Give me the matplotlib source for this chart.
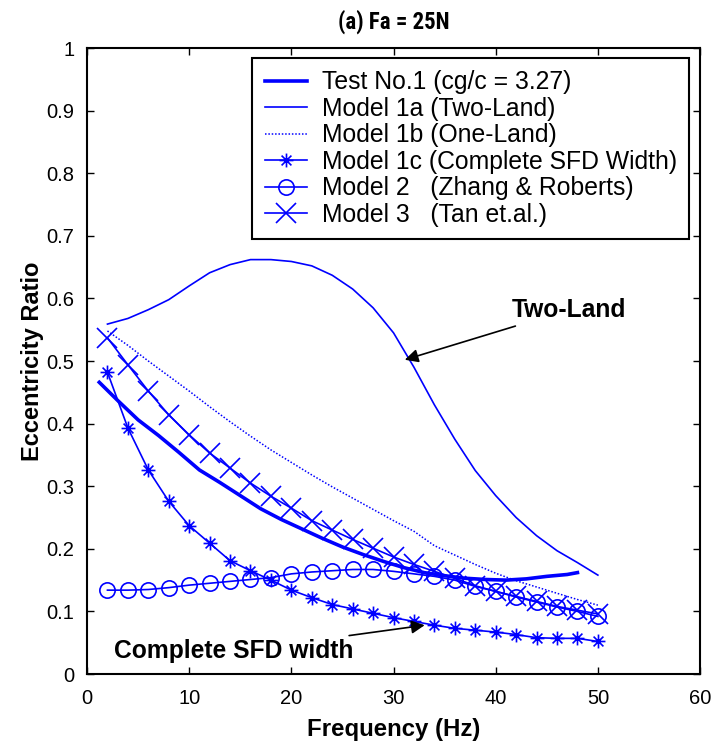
import numpy as np
import matplotlib
matplotlib.use("Agg")
import matplotlib.pyplot as plt
from matplotlib.path import Path
from matplotlib.ticker import FuncFormatter, MultipleLocator

plt.rcParams['font.family'] = ['Liberation Sans', 'DejaVu Sans']

# Frequency grid of the model curves (Hz)
freq_model = [2, 4, 6, 8, 10, 12, 14, 16, 18, 20, 22, 24, 26,
              28, 30, 32, 34, 36, 38, 40, 42, 44, 46, 48, 50]

# Measured eccentricity ratio, Test No.1
freq_test = [1.2, 3, 5, 7, 9, 11, 13, 15, 17, 19, 21, 23, 25,
             27, 29, 31, 33, 35, 37, 39, 41, 43, 45, 47, 48]
ecc_test = [0.466, 0.437, 0.406, 0.381, 0.354, 0.326, 0.306, 0.285, 0.264,
            0.247, 0.232, 0.217, 0.203, 0.191, 0.180, 0.170, 0.162, 0.157,
            0.153, 0.151, 0.150, 0.152, 0.156, 0.159, 0.162]

# Model predictions
ecc_1a = [0.559, 0.568, 0.582, 0.598, 0.620, 0.641, 0.654, 0.662, 0.662,
          0.659, 0.652, 0.637, 0.615, 0.585, 0.545, 0.490, 0.430, 0.375,
          0.325, 0.285, 0.250, 0.221, 0.197, 0.178, 0.158]
ecc_1b = [0.548, 0.525, 0.500, 0.476, 0.452, 0.427, 0.403, 0.380, 0.358,
          0.338, 0.318, 0.299, 0.281, 0.263, 0.245, 0.228, 0.205, 0.190,
          0.175, 0.161, 0.149, 0.139, 0.129, 0.119, 0.110]
ecc_1c = [0.482, 0.393, 0.326, 0.276, 0.237, 0.209, 0.181, 0.165, 0.150,
          0.134, 0.122, 0.111, 0.104, 0.097, 0.090, 0.084, 0.078, 0.073,
          0.070, 0.067, 0.063, 0.058, 0.057, 0.057, 0.052]
ecc_2 = [0.134, 0.134, 0.135, 0.138, 0.142, 0.145, 0.148, 0.151, 0.154,
         0.160, 0.163, 0.165, 0.167, 0.167, 0.164, 0.160, 0.156, 0.150,
         0.140, 0.132, 0.123, 0.115, 0.107, 0.100, 0.092]
ecc_3 = [0.537, 0.494, 0.452, 0.414, 0.382, 0.353, 0.329, 0.305, 0.284,
         0.265, 0.245, 0.230, 0.215, 0.201, 0.187, 0.175, 0.164, 0.153,
         0.141, 0.132, 0.124, 0.116, 0.108, 0.102, 0.096]

labels = ["Test No.1 (cg/c = 3.27)",
          "Model 1a (Two-Land)",
          "Model 1b (One-Land)",
          "Model 1c (Complete SFD Width)",
          "Model 2   (Zhang & Roberts)",
          "Model 3   (Tan et.al.)"]

blue = (0, 0, 1)

# eight-armed asterisk marker
r = 0.7071
asterisk = Path([(0, -1), (0, 1), (-1, 0), (1, 0), (-r, -r), (r, r), (-r, r), (r, -r)],
                [Path.MOVETO, Path.LINETO] * 4)

fig = plt.figure(figsize=(7.18, 7.48), dpi=100)
ax = fig.add_axes([0.1212, 0.0989, 0.8538, 0.8369])

ax.plot(freq_test, ecc_test, color=blue, lw=2.6, label=labels[0])
ax.plot(freq_model, ecc_1a, color=blue, lw=1.2, label=labels[1])
ax.plot(freq_model, ecc_1b, color=blue, lw=1.1, ls=(0, (1, 1.2)), label=labels[2])
ax.plot(freq_model, ecc_1c, color=blue, lw=1.2, marker=asterisk, ms=10,
        mew=1.2, mfc='none', mec=blue, label=labels[3])
ax.plot(freq_model, ecc_2, color=blue, lw=1.2, marker='o', ms=11,
        mew=1.2, mfc='none', mec=blue, label=labels[4])
ax.plot(freq_model, ecc_3, color=blue, lw=1.2, marker='x', ms=14,
        mew=1.2, mec=blue, label=labels[5])

ax.set_xlim(0, 60)
ax.set_ylim(0, 1)
ax.xaxis.set_major_locator(MultipleLocator(10))
ax.yaxis.set_major_locator(MultipleLocator(0.1))
ax.yaxis.set_major_formatter(FuncFormatter(lambda v, p: f"{v:g}"))
ax.tick_params(direction='in', length=5, width=1, top=True, right=True,
               labelsize=14.5)
ax.tick_params(axis='x', pad=11)
ax.tick_params(axis='y', pad=9)
for s in ax.spines.values():
    s.set_linewidth(1.5)

ax.set_xlabel("Frequency (Hz)", fontsize=17.3, fontweight='bold', labelpad=7)
ax.set_ylabel("Eccentricity Ratio", fontsize=17, fontweight='bold', labelpad=2)
ax.set_title("(a) Fa = 25N", fontsize=16.5, fontweight='bold', pad=14,
             family=['Roboto Condensed', 'IBM Plex Sans Condensed', 'Liberation Sans'])

leg = ax.legend(loc='upper right', bbox_to_anchor=(0.982, 0.984), fontsize=17.8,
                frameon=True, fancybox=False, framealpha=1, edgecolor='k',
                handlelength=1.7, handletextpad=0.6, labelspacing=0.1,
                borderpad=0.5, borderaxespad=0)
leg.get_frame().set_linewidth(1.5)

ax.annotate("Two-Land", xy=(31.1, 0.502), xytext=(41.6, 0.582),
            fontsize=17.7, fontweight='bold', va='center', ha='left',
            arrowprops=dict(arrowstyle='-|>', color='k', lw=1.2,
                            mutation_scale=20, shrinkA=4, shrinkB=0))
ax.annotate("Complete SFD width", xy=(33.05, 0.078), xytext=(2.6, 0.036),
            fontsize=17.7, fontweight='bold', va='center', ha='left',
            arrowprops=dict(arrowstyle='-|>', color='k', lw=1.2,
                            mutation_scale=20, shrinkA=6, shrinkB=0))

fig.savefig("out.png", dpi=100)
